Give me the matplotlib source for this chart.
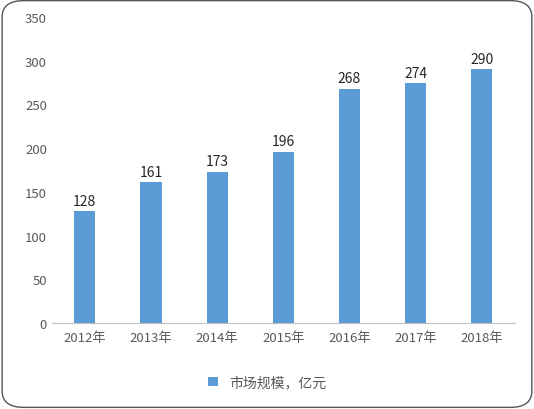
import matplotlib
matplotlib.use("Agg")
import matplotlib.pyplot as plt
from matplotlib.patches import FancyBboxPatch

plt.rcParams['font.family'] = ['Noto Sans CJK SC', 'DejaVu Sans']

years = ["2012年", "2013年", "2014年", "2015年", "2016年", "2017年", "2018年"]
values = [128, 161, 173, 196, 268, 274, 290]
series_name = "市场规模，亿元"

fig = plt.figure(figsize=(5.34, 4.10), dpi=100)
border = FancyBboxPatch((0.004, 0.004), 0.992, 0.992, boxstyle="round,pad=0,rounding_size=0.04",
                        transform=fig.transFigure, fc="white", ec="#555555", lw=1.0, zorder=-10)
fig.patches.append(border)
ax = fig.add_axes([0.097, 0.21, 0.867, 0.746])
ax.patch.set_alpha(0)
bars = ax.bar(range(len(years)), values, width=0.32, color="#5B9BD5", label=series_name)
for i, v in enumerate(values):
    ax.text(i, v + 4, str(v), ha="center", va="bottom", fontsize=10, color="#262626")
ax.set_ylim(0, 350)
ax.set_yticks(range(0, 351, 50))
ax.set_xlim(-0.5, len(years) - 0.5)
ax.set_xticks(range(len(years)))
ax.set_xticklabels(years)
for s in ["top", "right", "left"]:
    ax.spines[s].set_visible(False)
ax.spines["bottom"].set_color("#BFBFBF")
ax.tick_params(axis="both", length=0, labelsize=9.5, colors="#595959")
ax.tick_params(axis="x", pad=6)
fig.legend(handles=[bars], labels=[series_name], loc="center", bbox_to_anchor=(0.5, 0.065),
           frameon=False, fontsize=10, handlelength=0.7, handleheight=0.7, labelcolor="#595959")
fig.savefig("out.png", dpi=100)
